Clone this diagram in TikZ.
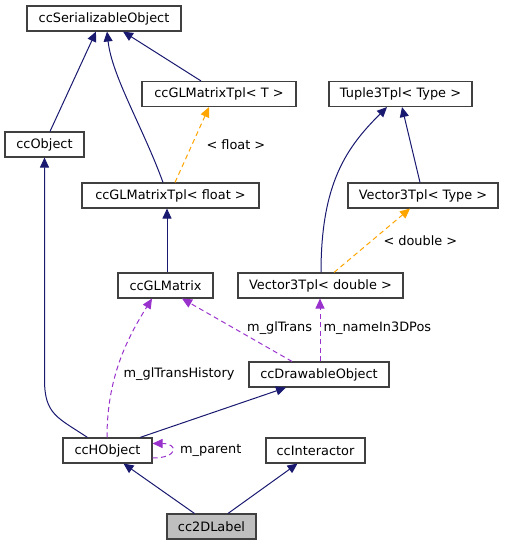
\documentclass[tikz,border=0pt]{standalone}
\usepackage{fontspec}
\setmainfont{DejaVu Sans}
\usetikzlibrary{arrows.meta, positioning}
\definecolor{edgenavy}{RGB}{25,25,112}
\definecolor{edgeorange}{RGB}{255,165,0}
\definecolor{edgepurple}{RGB}{153,50,204}
\definecolor{boxgray}{RGB}{191,191,191}

\begin{document}
\begin{tikzpicture}[x=1pt, y=-1pt, font=\fontsize{12.9}{15}\selectfont]
  \tikzset{
    class_box/.style args={#1}{
      rectangle, draw=black!75, line width=1.1pt, fill=white, minimum width=#1, minimum height=25pt, inner sep=0pt
    },
    inherit_arrow/.style={-{Triangle[length=10pt, width=9pt]}, color=edgenavy, line width=1pt},
    template_arrow/.style={-{Triangle[length=10pt, width=9pt]}, color=edgeorange, line width=1pt, dash pattern=on 5pt off 3.5pt},
    usage_arrow/.style={-{Triangle[length=10pt, width=9pt]}, color=edgepurple, line width=1pt, dash pattern=on 5pt off 3.5pt},
    edge_label/.style={inner sep=1pt, anchor=west, text=black}
  }
  \useasboundingbox (0,0) rectangle (504,545);

  % Draw the class boxes
  \foreach \name/\x/\y/\w/\txt in {
    serializable/104/18.5/154/ccSerializableObject,
    gl_tpl_t/219/94/154/ccGLMatrixTpl< T >,
    tuple_type/400.5/94/143/Tuple3Tpl< Type >,
    ccobject/44.5/144.5/79/ccObject,
    gl_tpl_float/170.5/195.5/177/ccGLMatrixTpl< float >,
    vec_type/423/195.5/150/Vector3Tpl< Type >,
    glmatrix/165.5/285.5/95/ccGLMatrix,
    vec_double/320.5/285.5/165/Vector3Tpl< double >,
    drawable/319/374.5/140/ccDrawableObject,
    hobject/107.5/450.5/89/ccHObject,
    interactor/315.5/450.5/99/ccInteractor
  } {
    \node[class_box=\w pt] (\name) at (\x,\y) {\txt};
  }
  \node[class_box=89pt, fill=boxgray] (label_2d) at (211.5,526.5) {cc2DLabel};

  % Draw the straight inheritance arrows
  \foreach \from/\fs/\to/\ts in {
    ccobject/5.5/serializable/-8,
    gl_tpl_t/-18/serializable/19,
    vec_type/-3/tuple_type/1.5,
    glmatrix/1.5/gl_tpl_float/-3.5,
    hobject/32.5/drawable/-33,
    label_2d/-17/hobject/16,
    label_2d/16.5/interactor/-18
  } {
    \draw[inherit_arrow] ([xshift=\fs pt]\from.north) -- ([xshift=\ts pt]\to.south);
  }

  % Draw the curved inheritance arrows
  \draw[inherit_arrow] ([xshift=-7.5pt]gl_tpl_float.north) .. controls +(-20,-55) and +(5,45) .. ([xshift=3pt]serializable.south);
  \draw[inherit_arrow] ([xshift=0.5pt]vec_double.north) .. controls +(0,-90) and +(-40,40) .. ([xshift=-13.5pt]tuple_type.south);
  \draw[inherit_arrow] ([xshift=-20pt]hobject.north) .. controls +(-30,-20) and +(0,35) .. ([yshift=-222pt]ccobject.south) -- (ccobject.south);

  % Draw the template instance arrows
  \draw[template_arrow] ([xshift=4.5pt]gl_tpl_float.north) -- node[edge_label, pos=0.5, xshift=13pt] {< float >} ([xshift=-10pt]gl_tpl_t.south);
  \draw[template_arrow] ([xshift=13.5pt]vec_double.north) -- node[edge_label, pos=0.5, xshift=10pt] {< double >} ([xshift=-13pt]vec_type.south);

  % Draw the member usage arrows
  \draw[usage_arrow] ([xshift=-27pt]drawable.north) -- node[edge_label, pos=0.53, xshift=12pt] {m\_glTrans} ([xshift=16.5pt]glmatrix.south);
  \draw[usage_arrow] ([xshift=1pt]drawable.north) -- node[edge_label, pos=0.53, xshift=2pt] {m\_nameIn3DPos} ([xshift=-0.5pt]vec_double.south);
  \draw[usage_arrow] ([xshift=-0.5pt]hobject.north) .. controls +(0,-60) and +(-25,40) .. ([xshift=-13.5pt]glmatrix.south)
    node[edge_label, pos=0.4, xshift=6.5pt] {m\_glTransHistory};
  \draw[usage_arrow] ([yshift=-7.5pt]hobject.east) .. controls +(26,0) and +(26,0) .. ([yshift=7pt]hobject.east)
    node[edge_label, pos=0.5, xshift=6.5pt] {m\_parent};

\end{tikzpicture}
\end{document}
